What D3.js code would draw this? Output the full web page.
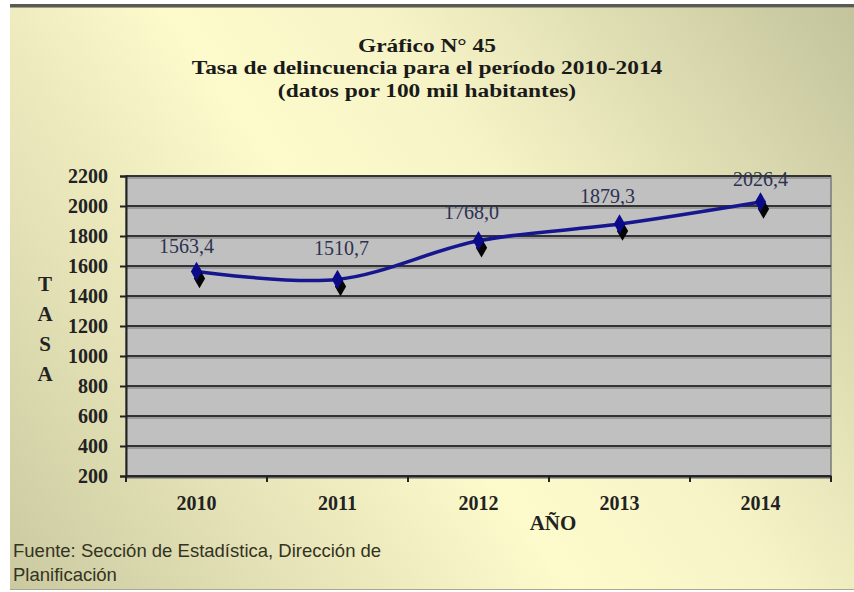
<!DOCTYPE html>
<html>
<head>
<meta charset="utf-8">
<script src="https://cdn.jsdelivr.net/npm/d3@7"></script>
<style>
  body { margin: 0; background: #fff; }
  svg { display: block; }
</style>
</head>
<body>
<svg></svg>
<script>
const years = ["2010", "2011", "2012", "2013", "2014"];
const tasa = [1563.4, 1510.7, 1768.0, 1879.3, 2026.4];
const yTicks = [200, 400, 600, 800, 1000, 1200, 1400, 1600, 1800, 2000, 2200];
const titleLines = ["Gráfico N° 45", "Tasa de delincuencia para el período 2010-2014", "(datos por 100 mil habitantes)"];
const fuente = ["Fuente: Sección de Estadística, Dirección de", "Planificación"];
// small nudges for the value labels, as in the original
const labelShift = [[-10, 2], [4, -4], [-7, -2], [-12, -1], [0, 4]];

const width = 854, height = 592;
const svg = d3.select("svg").attr("width", width).attr("height", height);
const serif = "'Liberation Serif', 'Times New Roman', serif";

const defs = svg.append("defs");
const bg = defs.append("linearGradient").attr("id", "bg")
    .attr("gradientUnits", "userSpaceOnUse")
    .attr("x1", 10).attr("y1", 590).attr("x2", 854).attr("y2", 5);
bg.append("stop").attr("offset", "0%").attr("stop-color", "#cbc9a0");
bg.append("stop").attr("offset", "45%").attr("stop-color", "#fdfbcc");
bg.append("stop").attr("offset", "62%").attr("stop-color", "#f6f4c6");
bg.append("stop").attr("offset", "100%").attr("stop-color", "#c3c39c");

// panel
svg.append("rect").attr("x", 10).attr("y", 5).attr("width", 844).attr("height", 585)
    .attr("fill", "url(#bg)");
svg.append("rect").attr("x", 10).attr("y", 4).attr("width", 844).attr("height", 3).attr("fill", "#5a5a55");
svg.append("rect").attr("x", 10).attr("y", 7).attr("width", 844).attr("height", 1).attr("fill", "#a09f88");
svg.append("rect").attr("x", 10).attr("y", 589).attr("width", 844).attr("height", 1).attr("fill", "#a8a790");

// title (condensed-looking, wide)
svg.append("g").attr("transform", "translate(427,0) scale(1.2,1)")
  .selectAll("text").data(titleLines).join("text")
    .attr("x", 0).attr("y", (d, i) => 52 + i * 22.5)
    .attr("text-anchor", "middle")
    .attr("font-family", serif).attr("font-weight", "bold").attr("font-size", 19.5)
    .attr("fill", "#1a1a1a")
    .text(d => d);

const margin = {left: 126, right: 831, top: 176, bottom: 476};

const x = d3.scaleBand().domain(years).range([margin.left, margin.right]);
const y = d3.scaleLinear().domain([200, 2200]).range([margin.bottom, margin.top]);

// plot area
svg.append("rect").attr("x", margin.left).attr("y", margin.top)
    .attr("width", margin.right - margin.left).attr("height", margin.bottom - margin.top)
    .attr("fill", "#c0c0c0").attr("stroke", "#7a7a7a").attr("stroke-width", 1.5);

// grid
const grid = svg.append("g");
grid.selectAll("line.sh").data(yTicks).join("line").attr("class", "sh")
    .attr("x1", margin.left).attr("x2", margin.right)
    .attr("y1", d => y(d) + 2).attr("y2", d => y(d) + 2)
    .attr("stroke", "#8e8e8e").attr("stroke-width", 1.5);
grid.selectAll("line.gl").data(yTicks).join("line").attr("class", "gl")
    .attr("x1", margin.left).attr("x2", margin.right)
    .attr("y1", d => y(d)).attr("y2", d => y(d))
    .attr("stroke", "#333").attr("stroke-width", 2);

// y axis
const yAxis = svg.append("g").attr("transform", `translate(${margin.left},0)`)
    .call(d3.axisLeft(y).tickValues(yTicks).tickSize(6).tickPadding(12).tickFormat(d3.format("d")));
yAxis.select(".domain").attr("stroke", "#222").attr("stroke-width", 2);
yAxis.selectAll(".tick line").attr("stroke", "#222").attr("stroke-width", 2);
yAxis.selectAll("text").attr("font-family", serif).attr("font-weight", "bold")
    .attr("font-size", 20).attr("fill", "#222");

// x axis
const xAxis = svg.append("g").attr("transform", `translate(0,${margin.bottom})`)
    .call(d3.axisBottom(x).tickSize(0).tickPadding(20));
xAxis.select(".domain").attr("stroke", "#222").attr("stroke-width", 2);
xAxis.selectAll("text").attr("font-family", serif).attr("font-weight", "bold")
    .attr("font-size", 20).attr("fill", "#222");
// tick marks on category boundaries
xAxis.selectAll("line.bt").data(years.concat(["end"])).join("line").attr("class", "bt")
    .attr("x1", (d, i) => margin.left + i * x.bandwidth())
    .attr("x2", (d, i) => margin.left + i * x.bandwidth())
    .attr("y1", 0).attr("y2", 6)
    .attr("stroke", "#222").attr("stroke-width", 2);

// axis titles
svg.append("text").attr("x", 553).attr("y", 530).attr("text-anchor", "middle")
    .attr("font-family", serif).attr("font-weight", "bold").attr("font-size", 21)
    .attr("fill", "#222").text("AÑO");
svg.append("g").selectAll("text").data("TASA".split("")).join("text")
    .attr("x", 45).attr("y", (d, i) => 291 + i * 30).attr("text-anchor", "middle")
    .attr("font-family", serif).attr("font-weight", "bold").attr("font-size", 21)
    .attr("fill", "#222").text(d => d);

// line
const cx = d => x(d) + x.bandwidth() / 2;
const line = d3.line()
    .x((d, i) => cx(years[i]))
    .y(d => y(d))
    .curve(d3.curveCatmullRom.alpha(0.5));
svg.append("path").datum(tasa).attr("d", line)
    .attr("fill", "none").attr("stroke", "#16168f").attr("stroke-width", 3.5)
    .attr("stroke-linejoin", "round");

// markers: black shadow then navy diamond
const diamond = d3.symbol().type(d3.symbolDiamond).size(110);
svg.append("g").selectAll("path").data(tasa).join("path")
    .attr("d", diamond)
    .attr("transform", (d, i) => `translate(${cx(years[i]) + 3},${y(d) + 7})`)
    .attr("fill", "#050505");
svg.append("g").selectAll("path").data(tasa).join("path")
    .attr("d", diamond)
    .attr("transform", (d, i) => `translate(${cx(years[i])},${y(d)})`)
    .attr("fill", "#0b0b8a");

// value labels
const fmt = v => d3.format(".1f")(v).replace(".", ",");
svg.append("g").selectAll("text").data(tasa).join("text")
    .attr("x", (d, i) => cx(years[i]) + labelShift[i][0])
    .attr("y", (d, i) => y(d) - 20 + labelShift[i][1])
    .attr("text-anchor", "middle")
    .attr("font-family", serif).attr("font-size", 20)
    .attr("fill", "#2c3250")
    .text(fmt);

// source note
svg.append("g").selectAll("text").data(fuente).join("text")
    .attr("x", 13).attr("y", (d, i) => 557 + i * 24)
    .attr("font-family", "'Liberation Sans', Arial, sans-serif").attr("font-size", 18.5)
    .attr("fill", "#33331f")
    .text(d => d);
</script>
</body>
</html>
